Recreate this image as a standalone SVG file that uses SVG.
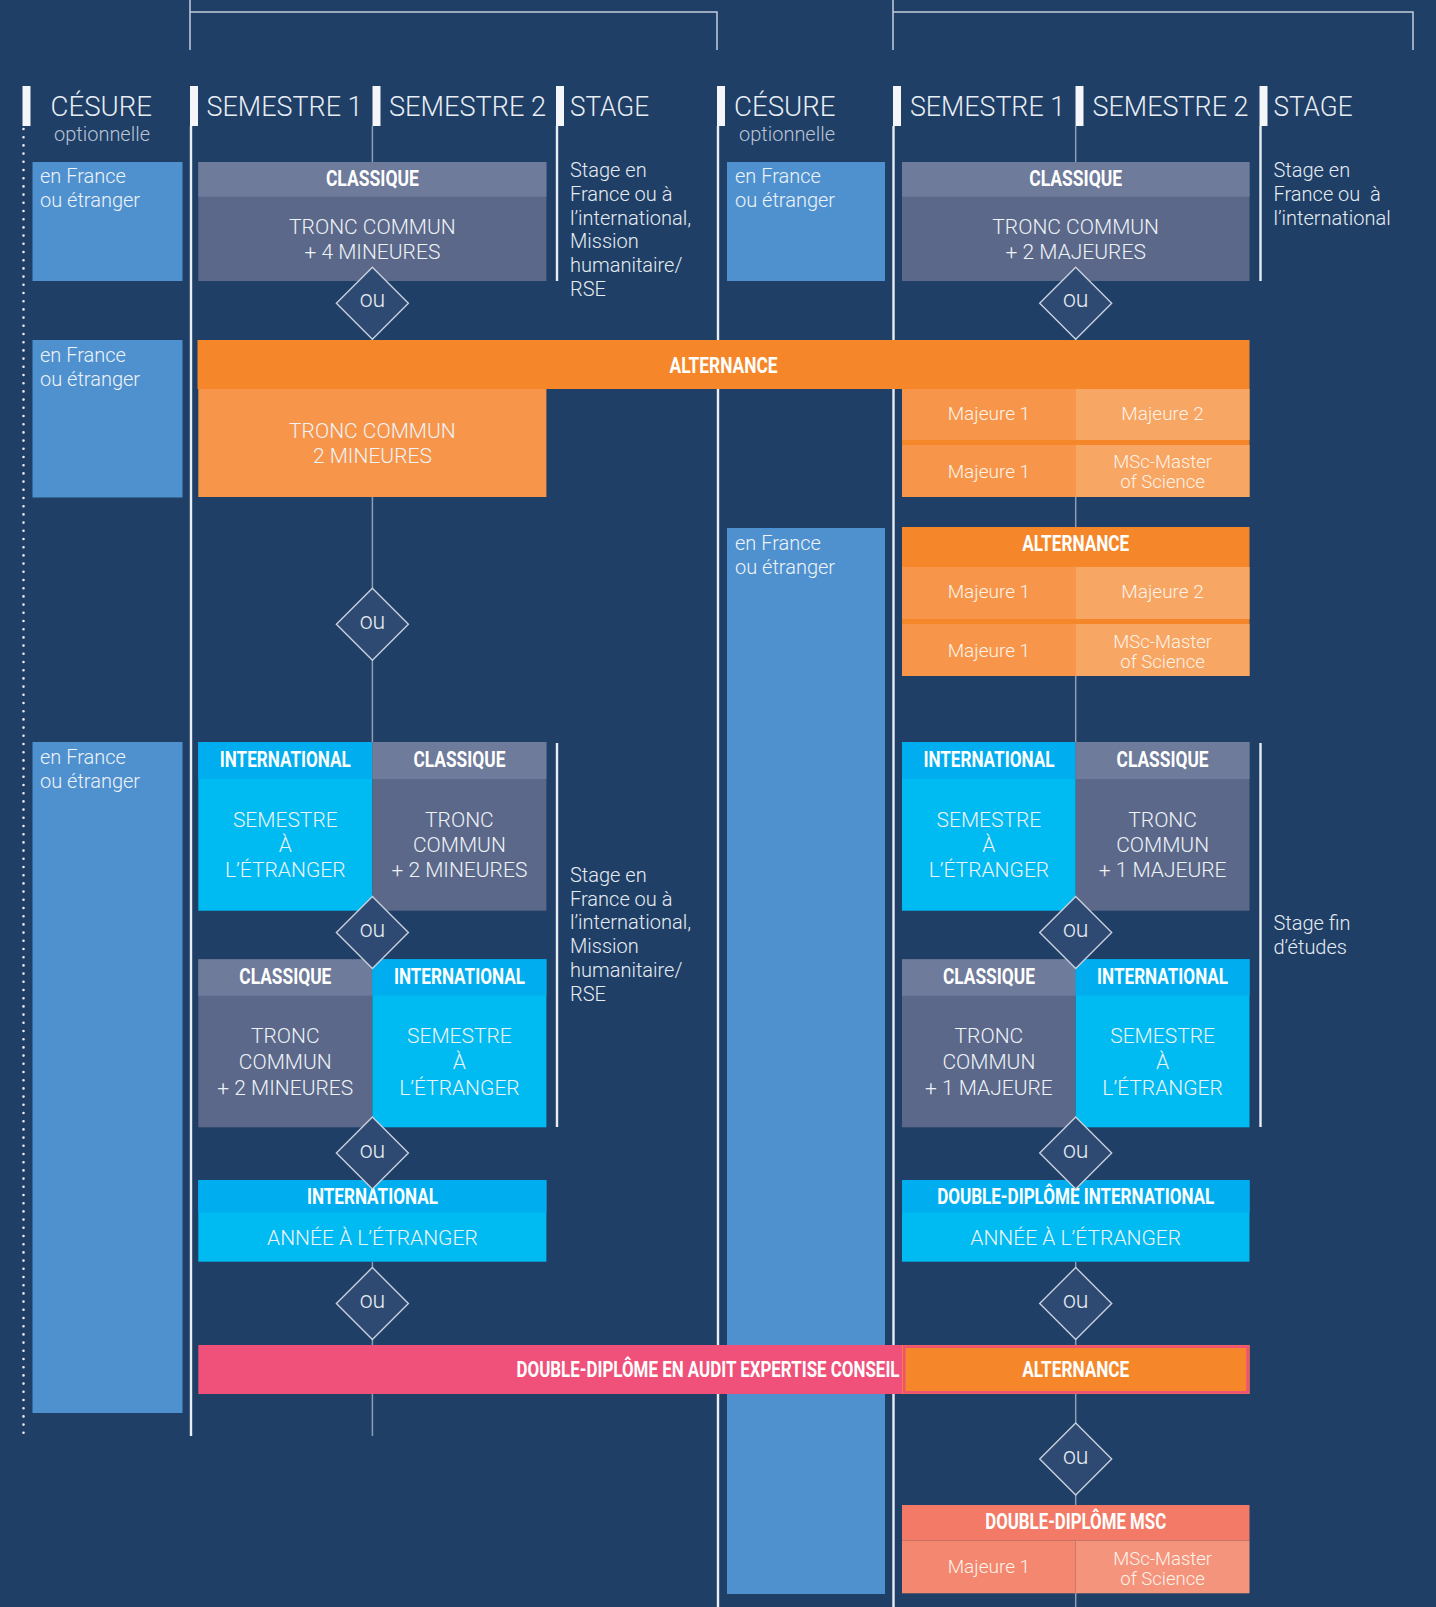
<svg xmlns="http://www.w3.org/2000/svg" width="1436" height="1607" viewBox="0 0 1436 1607">
<defs>
<style>
text{font-family:Roboto,"Liberation Sans",sans-serif;font-weight:300}
.hdr{font-size:27px;fill:#e9eef5}
.opt{font-size:20px;fill:#b9c5d6;text-anchor:middle}
.bar{fill:#f4f6f9}
.col{stroke:#e9eef5;stroke-width:2.4;fill:none}
.dot{stroke:#e9eef5;stroke-width:2.6;stroke-linecap:round;stroke-dasharray:0 8.2;fill:none}
.brk{stroke:#c3cddb;stroke-width:1.5;fill:none}
.conn{stroke:#8e9db3;stroke-width:1.5;fill:none}
.cb{fill:#4f91cf}
.cbt{font-size:20px;fill:#eef3f8}
.clh{fill:#6f7b9a}.clb{fill:#5b6889}
.inh{fill:#00aeef}.inb{fill:#00bbf2}
.alt{fill:#f5872a}.or1{fill:#f7964a}.or2{fill:#f8a663}
.pink{fill:#f0517a}
.salh{fill:#f37a66}.sal1{fill:#f4876f}.sal2{fill:#f5947c}
.hb{font-size:22px;font-weight:700;fill:#ffffff;text-anchor:middle}
.bt{font-size:21px;fill:#eef3f8;text-anchor:middle}
.mj{font-size:19px;fill:#fdf3ea;text-anchor:middle}
.ms{font-size:18.5px;fill:#fdf3ea;text-anchor:middle}
.dia{fill:#2f4a72;stroke:#c8d0dc;stroke-width:1.4}
.ou{font-size:23px;fill:#e6ecf3;text-anchor:middle}
.stg{font-size:20px;fill:#e6ecf3}
</style>
<polygon id="dm" points="0,-36 36,0 0,36 -36,0"/>
</defs>
<rect width="1436" height="1607" fill="#1f3f66"/>

<g id="frame">
<path class="brk" d="M190,0V50M190,12H717V50"/>
<path class="brk" d="M893,0V50M893,12H1413V50"/>
<line class="dot" x1="23.5" y1="129" x2="23.5" y2="1436"/>
<line class="col" x1="191" y1="126" x2="191" y2="1436"/>
<line class="col" x1="557" y1="126" x2="557" y2="281"/>
<line class="col" x1="557" y1="743" x2="557" y2="1127"/>
<line class="col" x1="718" y1="126" x2="718" y2="1607"/>
<line class="col" x1="893.5" y1="126" x2="893.5" y2="1607"/>
<line class="col" x1="1260.5" y1="126" x2="1260.5" y2="281"/>
<line class="col" x1="1260.5" y1="743" x2="1260.5" y2="1127"/>
</g>

<g id="headers">
<rect class="bar" x="22.5" y="86" width="8" height="40"/>
<rect class="bar" x="190" y="86" width="8" height="40"/>
<rect class="bar" x="372.5" y="86" width="8" height="40"/>
<rect class="bar" x="556" y="86" width="8" height="40"/>
<rect class="bar" x="717" y="86" width="8" height="40"/>
<rect class="bar" x="893" y="86" width="8" height="40"/>
<rect class="bar" x="1075.5" y="86" width="8" height="40"/>
<rect class="bar" x="1259.5" y="86" width="8" height="40"/>
<text class="hdr" x="50.5" y="116" textLength="101.5" lengthAdjust="spacingAndGlyphs">CÉSURE</text>
<text class="opt" x="102" y="141">optionnelle</text>
<text class="hdr" x="206.5" y="116" textLength="156" lengthAdjust="spacingAndGlyphs">SEMESTRE 1</text>
<text class="hdr" x="389" y="116" textLength="157" lengthAdjust="spacingAndGlyphs">SEMESTRE 2</text>
<text class="hdr" x="570" y="116" textLength="79" lengthAdjust="spacingAndGlyphs">STAGE</text>
<text class="hdr" x="734" y="116" textLength="101.5" lengthAdjust="spacingAndGlyphs">CÉSURE</text>
<text class="opt" x="787" y="141">optionnelle</text>
<text class="hdr" x="910" y="116" textLength="155" lengthAdjust="spacingAndGlyphs">SEMESTRE 1</text>
<text class="hdr" x="1092.5" y="116" textLength="156" lengthAdjust="spacingAndGlyphs">SEMESTRE 2</text>
<text class="hdr" x="1273.5" y="116" textLength="79" lengthAdjust="spacingAndGlyphs">STAGE</text>
</g>

<g id="connectors">
<path class="conn" d="M372.4,126V162M372.4,281V340M372.4,497V742M372.4,1262V1345M372.4,1393V1436"/>
<path class="conn" d="M1075.7,126V162M1075.7,281V340M1075.7,497V527M1075.7,676V742M1075.7,1262V1345M1075.7,1394V1505M1075.7,1593V1607"/>
</g>

<g id="cesure-left-1">
<rect class="cb" x="32.5" y="162" width="150" height="119"/>
<text class="cbt" x="40" y="183">en France</text>
<text class="cbt" x="40" y="207">ou étranger</text>
</g>
<g id="cesure-left-2">
<rect class="cb" x="32.5" y="340" width="150" height="157.5"/>
<text class="cbt" x="40" y="361.5">en France</text>
<text class="cbt" x="40" y="385.5">ou étranger</text>
</g>
<g id="cesure-left-3">
<rect class="cb" x="32.5" y="742" width="150" height="671"/>
<text class="cbt" x="40" y="763.5">en France</text>
<text class="cbt" x="40" y="787.5">ou étranger</text>
</g>
<g id="cesure-right-1">
<rect class="cb" x="727" y="162" width="158" height="119"/>
<text class="cbt" x="735" y="183">en France</text>
<text class="cbt" x="735" y="207">ou étranger</text>
</g>
<g id="cesure-right-2">
<rect class="cb" x="727" y="528" width="158" height="1066"/>
<text class="cbt" x="735" y="549.5">en France</text>
<text class="cbt" x="735" y="573.5">ou étranger</text>
</g>

<g id="stage-text-1">
<text class="stg" x="570" y="177">Stage en</text>
<text class="stg" x="570" y="200.8">France ou à</text>
<text class="stg" x="570" y="224.6">l’international,</text>
<text class="stg" x="570" y="248.4">Mission</text>
<text class="stg" x="570" y="272.2">humanitaire/</text>
<text class="stg" x="570" y="296">RSE</text>
</g>
<g id="stage-text-2">
<text class="stg" x="1273.5" y="177">Stage en</text>
<text class="stg" x="1273.5" y="200.8" xml:space="preserve">France ou  à</text>
<text class="stg" x="1273.5" y="224.6">l’international</text>
</g>
<g id="stage-text-3">
<text class="stg" x="570" y="881.7">Stage en</text>
<text class="stg" x="570" y="905.5">France ou à</text>
<text class="stg" x="570" y="929.3">l’international,</text>
<text class="stg" x="570" y="953.1">Mission</text>
<text class="stg" x="570" y="976.9">humanitaire/</text>
<text class="stg" x="570" y="1000.7">RSE</text>
</g>
<g id="stage-text-4">
<text class="stg" x="1273.5" y="930">Stage fin</text>
<text class="stg" x="1273.5" y="954">d’études</text>
</g>

<g id="classique-left">
<rect class="clb" x="198.3" y="162" width="348.1" height="119"/>
<rect class="clh" x="198.3" y="162" width="348.1" height="34.7"/>
<text class="hb" x="372.4" y="186" textLength="93" lengthAdjust="spacingAndGlyphs">CLASSIQUE</text>
<text class="bt" x="372.4" y="234">TRONC COMMUN</text>
<text class="bt" x="372.4" y="259">+ 4 MINEURES</text>
</g>
<g id="classique-right">
<rect class="clb" x="902" y="162" width="347.5" height="119"/>
<rect class="clh" x="902" y="162" width="347.5" height="34.7"/>
<text class="hb" x="1075.7" y="186" textLength="93" lengthAdjust="spacingAndGlyphs">CLASSIQUE</text>
<text class="bt" x="1075.7" y="234">TRONC COMMUN</text>
<text class="bt" x="1075.7" y="259">+ 2 MAJEURES</text>
</g>

<g id="alternance-bar">
<rect class="alt" x="197.5" y="340" width="1052" height="49"/>
<text class="hb" x="723.5" y="373" textLength="108" lengthAdjust="spacingAndGlyphs">ALTERNANCE</text>
</g>
<g id="tronc-2-mineures">
<rect class="or1" x="198.3" y="389" width="348.1" height="108"/>
<text class="bt" x="372.4" y="437.7">TRONC COMMUN</text>
<text class="bt" x="372.4" y="462.7">2 MINEURES</text>
</g>
<g id="alt-majeures-1">
<rect class="alt" x="902" y="389" width="347.5" height="108"/>
<rect class="or1" x="902" y="389" width="173.7" height="51"/>
<rect class="or2" x="1075.7" y="389" width="173.8" height="51"/>
<rect class="or1" x="902" y="445" width="173.7" height="52"/>
<rect class="or2" x="1075.7" y="445" width="173.8" height="52"/>
<text class="mj" x="988.9" y="420">Majeure 1</text>
<text class="mj" x="1162.6" y="420">Majeure 2</text>
<text class="mj" x="988.9" y="478">Majeure 1</text>
<text class="ms" x="1162.6" y="468">MSc-Master</text>
<text class="ms" x="1162.6" y="487.5">of Science</text>
</g>
<g id="alt-majeures-2">
<rect class="alt" x="902" y="527" width="347.5" height="149"/>
<text class="hb" x="1075.7" y="551" textLength="107" lengthAdjust="spacingAndGlyphs">ALTERNANCE</text>
<rect class="or1" x="902" y="567" width="173.7" height="52"/>
<rect class="or2" x="1075.7" y="567" width="173.8" height="52"/>
<rect class="or1" x="902" y="624" width="173.7" height="52"/>
<rect class="or2" x="1075.7" y="624" width="173.8" height="52"/>
<text class="mj" x="988.9" y="598">Majeure 1</text>
<text class="mj" x="1162.6" y="598">Majeure 2</text>
<text class="mj" x="988.9" y="656.7">Majeure 1</text>
<text class="ms" x="1162.6" y="648">MSc-Master</text>
<text class="ms" x="1162.6" y="667.5">of Science</text>
</g>

<g id="left-row1-international">
<rect class="inb" x="198.3" y="742" width="174.1" height="168.7"/>
<rect class="inh" x="198.3" y="742" width="174.1" height="37"/>
<text class="hb" x="285.3" y="767" textLength="131" lengthAdjust="spacingAndGlyphs">INTERNATIONAL</text>
<text class="bt" x="285.3" y="826.7">SEMESTRE</text>
<text class="bt" x="285.3" y="851.7">À</text>
<text class="bt" x="285.3" y="877.3">L’ÉTRANGER</text>
</g>
<g id="left-row1-classique">
<rect class="clb" x="372.4" y="742" width="174" height="168.7"/>
<rect class="clh" x="372.4" y="742" width="174" height="37"/>
<text class="hb" x="459.4" y="767" textLength="92" lengthAdjust="spacingAndGlyphs">CLASSIQUE</text>
<text class="bt" x="459.4" y="826.7">TRONC</text>
<text class="bt" x="459.4" y="851.7">COMMUN</text>
<text class="bt" x="459.4" y="877.3">+ 2 MINEURES</text>
</g>
<g id="left-row2-classique">
<rect class="clb" x="198.3" y="959.3" width="174.1" height="168"/>
<rect class="clh" x="198.3" y="959.3" width="174.1" height="36.4"/>
<text class="hb" x="285.3" y="983.5" textLength="92" lengthAdjust="spacingAndGlyphs">CLASSIQUE</text>
<text class="bt" x="285.3" y="1043.3">TRONC</text>
<text class="bt" x="285.3" y="1069">COMMUN</text>
<text class="bt" x="285.3" y="1095">+ 2 MINEURES</text>
</g>
<g id="left-row2-international">
<rect class="inb" x="372.4" y="959.3" width="174" height="168"/>
<rect class="inh" x="372.4" y="959.3" width="174" height="36.4"/>
<text class="hb" x="459.4" y="983.5" textLength="131" lengthAdjust="spacingAndGlyphs">INTERNATIONAL</text>
<text class="bt" x="459.4" y="1043.3">SEMESTRE</text>
<text class="bt" x="459.4" y="1069">À</text>
<text class="bt" x="459.4" y="1095">L’ÉTRANGER</text>
</g>

<g id="right-row1-international">
<rect class="inb" x="902" y="742" width="173.7" height="168.7"/>
<rect class="inh" x="902" y="742" width="173.7" height="37"/>
<text class="hb" x="988.9" y="767" textLength="131" lengthAdjust="spacingAndGlyphs">INTERNATIONAL</text>
<text class="bt" x="988.9" y="826.7">SEMESTRE</text>
<text class="bt" x="988.9" y="851.7">À</text>
<text class="bt" x="988.9" y="877.3">L’ÉTRANGER</text>
</g>
<g id="right-row1-classique">
<rect class="clb" x="1075.7" y="742" width="173.8" height="168.7"/>
<rect class="clh" x="1075.7" y="742" width="173.8" height="37"/>
<text class="hb" x="1162.6" y="767" textLength="92" lengthAdjust="spacingAndGlyphs">CLASSIQUE</text>
<text class="bt" x="1162.6" y="826.7">TRONC</text>
<text class="bt" x="1162.6" y="851.7">COMMUN</text>
<text class="bt" x="1162.6" y="877.3">+ 1 MAJEURE</text>
</g>
<g id="right-row2-classique">
<rect class="clb" x="902" y="959.3" width="173.7" height="168"/>
<rect class="clh" x="902" y="959.3" width="173.7" height="36.4"/>
<text class="hb" x="988.9" y="983.5" textLength="92" lengthAdjust="spacingAndGlyphs">CLASSIQUE</text>
<text class="bt" x="988.9" y="1043.3">TRONC</text>
<text class="bt" x="988.9" y="1069">COMMUN</text>
<text class="bt" x="988.9" y="1095">+ 1 MAJEURE</text>
</g>
<g id="right-row2-international">
<rect class="inb" x="1075.7" y="959.3" width="173.8" height="168"/>
<rect class="inh" x="1075.7" y="959.3" width="173.8" height="36.4"/>
<text class="hb" x="1162.6" y="983.5" textLength="131" lengthAdjust="spacingAndGlyphs">INTERNATIONAL</text>
<text class="bt" x="1162.6" y="1043.3">SEMESTRE</text>
<text class="bt" x="1162.6" y="1069">À</text>
<text class="bt" x="1162.6" y="1095">L’ÉTRANGER</text>
</g>

<g id="annee-left">
<rect class="inb" x="198.3" y="1180" width="348.1" height="81.7"/>
<rect class="inh" x="198.3" y="1180" width="348.1" height="32.7"/>
<text class="hb" x="372.4" y="1204" textLength="131" lengthAdjust="spacingAndGlyphs">INTERNATIONAL</text>
<text class="bt" x="372.4" y="1245">ANNÉE À L’ÉTRANGER</text>
</g>
<g id="annee-right">
<rect class="inb" x="902" y="1180" width="347.5" height="81.7"/>
<rect class="inh" x="902" y="1180" width="347.5" height="32.7"/>
<text class="hb" x="1075.7" y="1204" textLength="277" lengthAdjust="spacingAndGlyphs">DOUBLE-DIPLÔME INTERNATIONAL</text>
<text class="bt" x="1075.7" y="1245">ANNÉE À L’ÉTRANGER</text>
</g>

<g id="dd-audit">
<rect class="pink" x="198.3" y="1345" width="1051.2" height="49"/>
<text class="hb" x="899.5" y="1377" style="text-anchor:end" textLength="383" lengthAdjust="spacingAndGlyphs">DOUBLE-DIPLÔME EN AUDIT EXPERTISE CONSEIL</text>
</g>
<g id="alternance-final">
<rect class="alt" x="902" y="1345" width="347.5" height="49"/>
<rect x="904.2" y="1346.6" width="343.4" height="45.8" fill="none" stroke="#f0517a" stroke-width="2.6"/>
<text class="hb" x="1075.7" y="1377" textLength="107" lengthAdjust="spacingAndGlyphs">ALTERNANCE</text>
</g>

<g id="dd-msc">
<rect class="salh" x="902" y="1505" width="347.5" height="35.7"/>
<rect class="sal1" x="902" y="1540.7" width="173.7" height="52.6"/>
<rect class="sal2" x="1075.7" y="1540.7" width="173.8" height="52.6"/>
<text class="hb" x="1075.7" y="1528.5" textLength="181" lengthAdjust="spacingAndGlyphs">DOUBLE-DIPLÔME MSC</text>
<text class="mj" x="988.9" y="1573.3">Majeure 1</text>
<text class="ms" x="1162.6" y="1565">MSc-Master</text>
<text class="ms" x="1162.6" y="1584.5">of Science</text>
</g>

<g id="ou-left-1"><use href="#dm" class="dia" x="372.4" y="303.3"/><text class="ou" x="372.4" y="307">ou</text></g>
<g id="ou-left-2"><use href="#dm" class="dia" x="372.4" y="624.3"/><text class="ou" x="372.4" y="629">ou</text></g>
<g id="ou-left-3"><use href="#dm" class="dia" x="372.4" y="932.5"/><text class="ou" x="372.4" y="937">ou</text></g>
<g id="ou-left-4"><use href="#dm" class="dia" x="372.4" y="1153"/><text class="ou" x="372.4" y="1157.5">ou</text></g>
<g id="ou-left-5"><use href="#dm" class="dia" x="372.4" y="1303.5"/><text class="ou" x="372.4" y="1308">ou</text></g>
<g id="ou-right-1"><use href="#dm" class="dia" x="1075.7" y="303.3"/><text class="ou" x="1075.7" y="307">ou</text></g>
<g id="ou-right-2"><use href="#dm" class="dia" x="1075.7" y="932.5"/><text class="ou" x="1075.7" y="937">ou</text></g>
<g id="ou-right-3"><use href="#dm" class="dia" x="1075.7" y="1153"/><text class="ou" x="1075.7" y="1157.5">ou</text></g>
<g id="ou-right-4"><use href="#dm" class="dia" x="1075.7" y="1303.5"/><text class="ou" x="1075.7" y="1308">ou</text></g>
<g id="ou-right-5"><use href="#dm" class="dia" x="1075.7" y="1459"/><text class="ou" x="1075.7" y="1463.5">ou</text></g>
</svg>
